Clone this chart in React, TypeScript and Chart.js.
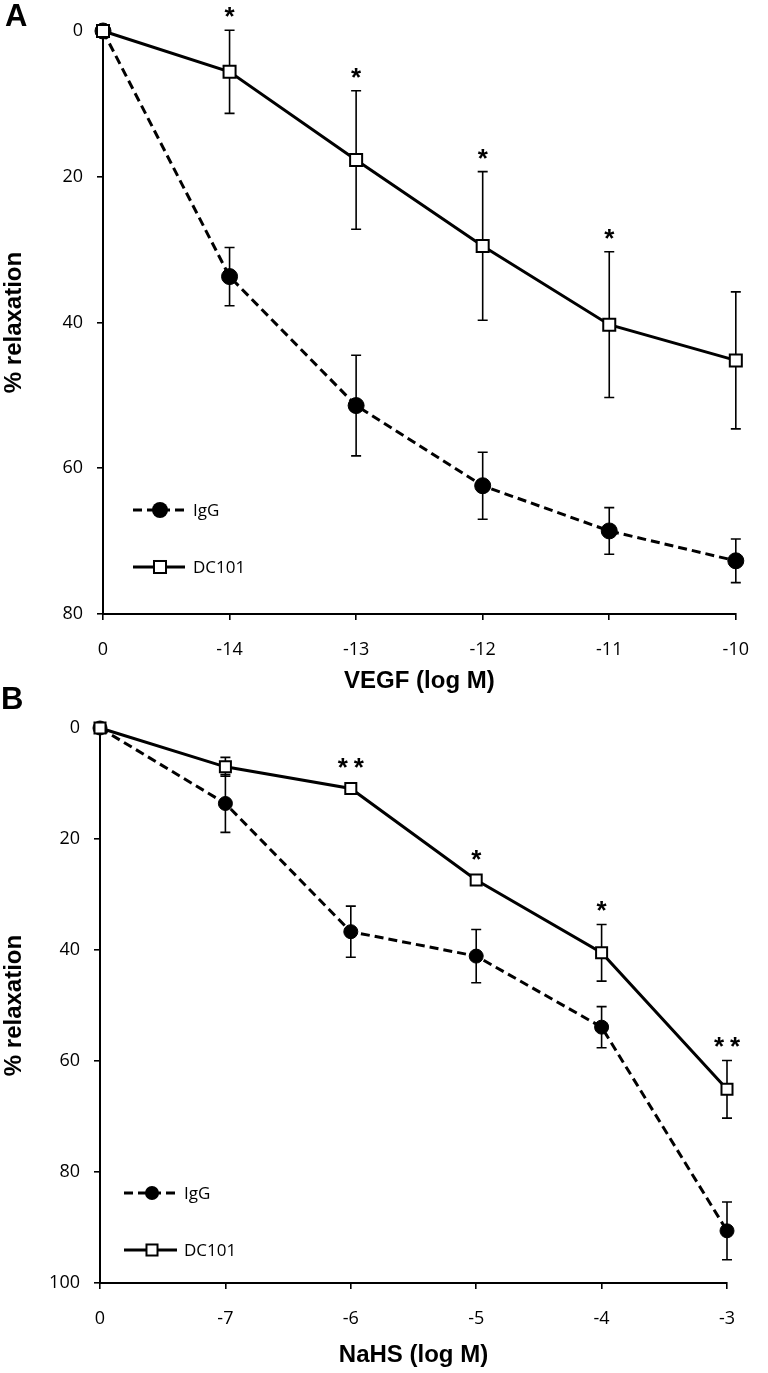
import React, { useEffect, useRef } from "react";
import { Chart, registerables } from "chart.js";

Chart.register(...registerables);

// ---------- Panel A: VEGF ----------
const A_LABELS = ["0", "-14", "-13", "-12", "-11", "-10"];
const A_IGG = [0, 33.7, 51.4, 62.4, 68.6, 72.7];
const A_IGG_SE = [0, 4.0, 6.9, 4.6, 3.2, 3.0];
const A_DC = [0, 5.6, 17.7, 29.5, 40.3, 45.2];
const A_DC_SE = [0, 5.7, 9.5, 10.2, 10.0, 9.4];
const A_SIG = ["", "*", "*", "*", "*", ""];
const A_YMAX = 80;

// ---------- Panel B: NaHS ----------
const B_LABELS = ["0", "-7", "-6", "-5", "-4", "-3"];
const B_IGG = [0, 13.6, 36.7, 41.1, 53.9, 90.6];
const B_IGG_SE = [0, 5.2, 4.6, 4.8, 3.7, 5.2];
const B_DC = [0, 7.0, 10.9, 27.4, 40.5, 65.1];
const B_DC_SE = [0, 1.7, 0.6, 0.4, 5.1, 5.2];
const B_SIG = ["", "", "**", "*", "*", "**"];
const B_YMAX = 100;

const SERIES_NAMES = ["IgG", "DC101"];
const TICK_FONT = '"Open Sans", "DejaVu Sans", sans-serif';
const TITLE_FONT = '"Liberation Sans", Arial, sans-serif';

type PanelProps = {
  labels: string[];
  igg: number[];
  iggSe: number[];
  dc: number[];
  dcSe: number[];
  sig: string[];
  yMax: number;
  xTitle: string;
  width: number;
  height: number;
  area: { left: number; right: number; top: number; bottom: number };
  titlePadBottom: number;
  circleR: number;
  rectR: number;
  legend: { x1: number; x2: number; xm: number; xt: number; y1: number; y2: number };
};

function Panel(p: PanelProps) {
  const ref = useRef<HTMLCanvasElement | null>(null);
  useEffect(() => {
    if (!ref.current) return;
    const overlay = {
      id: "overlay",
      beforeDatasetsDraw(chart: any) {
        const ctx = chart.ctx;
        const xs = chart.scales.x;
        const ys = chart.scales.y;
        ctx.save();
        ctx.strokeStyle = "#000";
        ctx.lineWidth = 1.6;
        const series = [
          { v: p.igg, se: p.iggSe },
          { v: p.dc, se: p.dcSe },
        ];
        for (const s of series) {
          s.v.forEach((val, i) => {
            const e = s.se[i];
            if (!e) return;
            const px = xs.getPixelForValue(i);
            const yTop = ys.getPixelForValue(val - e);
            const yBot = ys.getPixelForValue(val + e);
            ctx.beginPath();
            ctx.moveTo(px, yTop);
            ctx.lineTo(px, yBot);
            ctx.moveTo(px - 5, yTop);
            ctx.lineTo(px + 5, yTop);
            ctx.moveTo(px - 5, yBot);
            ctx.lineTo(px + 5, yBot);
            ctx.stroke();
          });
        }
        ctx.restore();
      },
      afterDatasetsDraw(chart: any) {
        const ctx = chart.ctx;
        const xs = chart.scales.x;
        const ys = chart.scales.y;
        ctx.save();
        // significance asterisks
        ctx.fillStyle = "#000";
        ctx.font = `bold 26px ${TITLE_FONT}`;
        ctx.textAlign = "center";
        ctx.textBaseline = "alphabetic";
        p.sig.forEach((s, i) => {
          if (!s) return;
          const px = xs.getPixelForValue(i);
          const top = Math.min(
            ys.getPixelForValue(p.dc[i] - p.dcSe[i]),
            ys.getPixelForValue(p.dc[i]) - 7
          );
          const cy = top - 20;
          const n = s.length;
          for (let k = 0; k < n; k++) {
            const cx = px + (k - (n - 1) / 2) * 16;
            ctx.fillText("*", cx, cy + 14.9);
          }
        });
        // legend
        const L = p.legend;
        const ca = chart.chartArea;
        const lx1 = ca.left + L.x1;
        const lx2 = ca.left + L.x2;
        const lxm = ca.left + L.xm;
        const lxt = ca.left + L.xt;
        ctx.strokeStyle = "#000";
        ctx.lineWidth = 3;
        // IgG
        ctx.setLineDash([9, 5]);
        ctx.beginPath();
        ctx.moveTo(lx1, L.y1);
        ctx.lineTo(lx2, L.y1);
        ctx.stroke();
        ctx.setLineDash([]);
        ctx.beginPath();
        ctx.arc(lxm, L.y1, p.circleR, 0, Math.PI * 2);
        ctx.fillStyle = "#000";
        ctx.fill();
        // DC101
        ctx.beginPath();
        ctx.moveTo(lx1, L.y2);
        ctx.lineTo(lx2, L.y2);
        ctx.stroke();
        const half = p.rectR * Math.SQRT1_2;
        ctx.fillStyle = "#fff";
        ctx.lineWidth = 2;
        ctx.fillRect(lxm - half, L.y2 - half, half * 2, half * 2);
        ctx.strokeRect(lxm - half, L.y2 - half, half * 2, half * 2);
        ctx.fillStyle = "#000";
        ctx.font = `17px ${TICK_FONT}`;
        ctx.textAlign = "left";
        ctx.textBaseline = "middle";
        ctx.fillText(SERIES_NAMES[0], lxt, L.y1 + 1);
        ctx.fillText(SERIES_NAMES[1], lxt, L.y2 + 1);
        ctx.restore();
      },
    };

    const a = p.area;
    const chart = new Chart(ref.current, {
      type: "line",
      data: {
        labels: p.labels,
        datasets: [
          {
            label: SERIES_NAMES[0],
            data: p.igg,
            borderColor: "#000",
            borderWidth: 3,
            borderDash: [9, 5],
            pointStyle: "circle",
            pointRadius: p.circleR,
            pointBackgroundColor: "#000",
            pointBorderColor: "#000",
            pointBorderWidth: 1,
            fill: false,
            tension: 0,
            clip: false as any,
            order: 1,
          },
          {
            label: SERIES_NAMES[1],
            data: p.dc,
            borderColor: "#000",
            borderWidth: 3,
            pointStyle: "rect",
            pointRadius: p.rectR,
            pointBackgroundColor: "#fff",
            pointBorderColor: "#000",
            pointBorderWidth: 2,
            fill: false,
            tension: 0,
            clip: false as any,
            order: 0,
          },
        ],
      },
      options: {
        animation: false,
        responsive: false,
        maintainAspectRatio: false,
        devicePixelRatio: 1,
        layout: {
          padding: {
            left: 0,
            right: p.width - a.right,
            top: a.top,
            bottom: 0,
          },
        },
        plugins: {
          legend: { display: false },
          tooltip: { enabled: false },
        },
        scales: {
          x: {
            type: "category",
            offset: false,
            afterFit: (s: any) => {
              s.height = p.height - a.bottom;
            },
            grid: {
              display: true,
              drawOnChartArea: false,
              drawTicks: true,
              tickLength: 6,
              color: "#000",
              lineWidth: 1.6,
              offset: false,
            },
            border: { display: true, color: "#000", width: 2 },
            ticks: {
              color: "#000",
              font: { family: TICK_FONT, size: 18 },
              padding: 19,
              maxRotation: 0,
              autoSkip: false,
            },
            title: {
              display: true,
              text: p.xTitle,
              color: "#000",
              font: { family: TITLE_FONT, size: 24, weight: "bold" },
              padding: { top: 0, bottom: p.titlePadBottom },
            },
          },
          y: {
            type: "linear",
            reverse: true,
            min: 0,
            max: p.yMax,
            afterFit: (s: any) => {
              s.width = a.left;
            },
            grid: {
              display: true,
              drawOnChartArea: false,
              drawTicks: true,
              tickLength: 6,
              color: "#000",
              lineWidth: 1.6,
            },
            border: { display: true, color: "#000", width: 2 },
            ticks: {
              stepSize: 20,
              color: "#000",
              font: { family: TICK_FONT, size: 18 },
              padding: 14,
            },
            title: {
              display: true,
              text: "% relaxation",
              color: "#000",
              font: { family: TITLE_FONT, size: 24, weight: "bold" },
              padding: { top: 0, bottom: 0 },
            },
          },
        },
      },
      plugins: [overlay],
    } as any);
    return () => chart.destroy();
  }, []);
  return (
    <canvas
      ref={ref}
      width={p.width}
      height={p.height}
      style={{ display: "block", width: p.width, height: p.height }}
    />
  );
}

export default function App() {
  const letterStyle: React.CSSProperties = {
    position: "absolute",
    fontFamily: TITLE_FONT,
    fontWeight: "bold",
    fontSize: 31,
    lineHeight: "30px",
    color: "#000",
  };
  return (
    <div
      style={{
        position: "absolute",
        left: 0,
        top: 0,
        width: 768,
        height: 1373,
        background: "#fff",
      }}
    >
      <div style={{ position: "absolute", left: 0, top: 0 }}>
        <Panel
          labels={A_LABELS}
          igg={A_IGG}
          iggSe={A_IGG_SE}
          dc={A_DC}
          dcSe={A_DC_SE}
          sig={A_SIG}
          yMax={A_YMAX}
          xTitle="VEGF (log M)"
          width={768}
          height={700}
          area={{ left: 103, right: 752, top: 31, bottom: 614 }}
          titlePadBottom={4}
          circleR={8}
          rectR={8.5}
          legend={{ x1: 30, x2: 82, xm: 57, xt: 90, y1: 510, y2: 567 }}
        />
      </div>
      <div style={{ position: "absolute", left: 0, top: 700 }}>
        <Panel
          labels={B_LABELS}
          igg={B_IGG}
          iggSe={B_IGG_SE}
          dc={B_DC}
          dcSe={B_DC_SE}
          sig={B_SIG}
          yMax={B_YMAX}
          xTitle="NaHS (log M)"
          width={768}
          height={673}
          area={{ left: 100, right: 727, top: 28, bottom: 583 }}
          titlePadBottom={3}
          circleR={7}
          rectR={7.8}
          legend={{ x1: 24, x2: 77, xm: 52, xt: 84, y1: 493, y2: 550 }}
        />
      </div>
      <div style={{ ...letterStyle, left: 5, top: 1 }}>A</div>
      <div style={{ ...letterStyle, left: 1, top: 684 }}>B</div>
    </div>
  );
}
